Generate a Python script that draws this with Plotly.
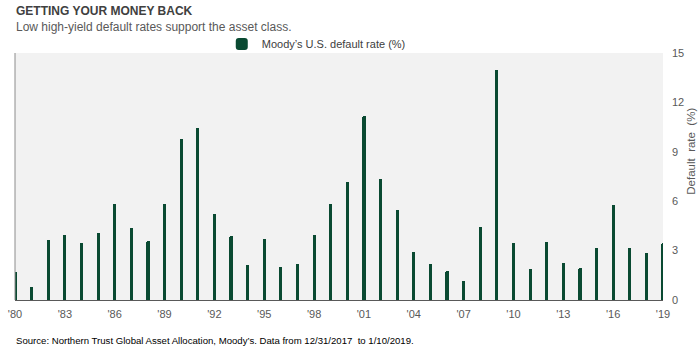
import plotly.graph_objects as go

years = list(range(1980, 2020))
default_rate = [1.70, 0.78, 3.63, 3.93, 3.46, 4.07, 5.82, 4.38, 3.59, 5.82,
                9.79, 10.46, 5.23, 3.87, 2.10, 3.69, 2.00, 2.18, 3.95, 5.82,
                7.18, 11.20, 7.33, 5.48, 2.91, 2.21, 1.76, 1.15, 4.44, 13.95,
                3.46, 1.88, 3.52, 2.24, 1.92, 3.18, 5.78, 3.18, 2.87, 3.47]
series_name = "Moody\u2019s U.S. default rate (%)"
x_tickvals = list(range(1980, 2020, 3))
x_ticktext = ["'" + str(y)[2:] for y in x_tickvals]
y_tickvals = [0, 3, 6, 9, 12, 15]

FONT = "Liberation Sans Narrow, Arial Narrow, Liberation Sans, Arial, sans-serif"
BAR = "#0a4a32"

W, H = 700, 351
ML, MR, MT, MB = 8, 37, 53, 51
plot_w = W - ML - MR
plot_h = H - MT - MB


def px(xp):
    return (xp - ML) / plot_w


def py(yp):
    return (H - MB - yp) / plot_h


fig = go.Figure()
fig.add_trace(go.Bar(
    x=years, y=default_rate, name=series_name,
    width=0.19,
    marker=dict(color=BAR, line=dict(width=0), cornerradius=2),
    showlegend=True,
))

fig.update_layout(
    width=W, height=H,
    margin=dict(l=ML, r=MR, t=MT, b=MB),
    paper_bgcolor="white",
    plot_bgcolor="#f2f2f2",
    font=dict(family=FONT, size=11, color="#595959"),
    showlegend=True,
    legend=dict(orientation="h", x=px(217), xanchor="left", y=py(44), yanchor="middle",
                font=dict(family=FONT, size=11, color="#404040"),
                bgcolor="rgba(0,0,0,0)", itemsizing="constant"),
    bargap=0,
    xaxis=dict(range=[1980, 2019], tickvals=x_tickvals, ticktext=x_ticktext,
               showgrid=False, zeroline=False, showline=True, linecolor="#595959",
               linewidth=1, ticks="", ticklabelstandoff=4,
               tickfont=dict(family=FONT, size=11, color="#595959")),
    yaxis=dict(range=[0, 15], tickvals=y_tickvals, side="right", showgrid=False,
               zeroline=False, showline=False, ticks="", ticklabelstandoff=8,
               tickfont=dict(family=FONT, size=11, color="#595959")),
    shapes=[dict(type="line", xref="paper", yref="paper", x0=0, x1=0, y0=0, y1=1,
                 line=dict(color="#8c8c8c", width=1))],
)

fig.add_annotation(text="<b>GETTING YOUR MONEY BACK</b>", xref="paper", yref="paper",
                   x=px(7), y=py(11), xanchor="left", yanchor="middle", showarrow=False,
                   font=dict(family=FONT, size=12, color="#404040"))
fig.add_annotation(text="Low high-yield default rates support the asset class.", xref="paper", yref="paper",
                   x=px(7), y=py(27), xanchor="left", yanchor="middle", showarrow=False,
                   font=dict(family=FONT, size=12, color="#595959"))
fig.add_annotation(text="Default  rate  (%)", xref="paper", yref="paper",
                   x=px(691), y=py(151), xanchor="center", yanchor="middle", showarrow=False,
                   textangle=-90, font=dict(family=FONT, size=11.5, color="#595959"))
fig.add_annotation(text="Source: Northern Trust Global Asset Allocation, Moody\u2019s. Data from 12/31/2017  to 1/10/2019.",
                   xref="paper", yref="paper",
                   x=px(7), y=py(340), xanchor="left", yanchor="middle", showarrow=False,
                   font=dict(family=FONT, size=9.6, color="#000000"))

fig.write_html("out.html")
